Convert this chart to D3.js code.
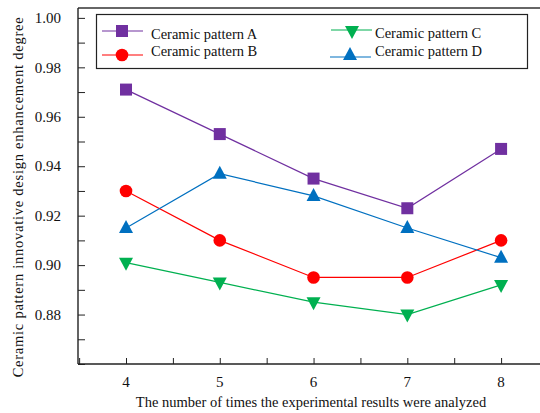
<!DOCTYPE html>
<html>
<head>
<meta charset="utf-8">
<script src="https://cdn.jsdelivr.net/npm/d3@7"></script>
<style>
  html, body { margin: 0; padding: 0; background: #fff; }
  svg text { font-family: "Liberation Serif", "DejaVu Serif", serif; }
</style>
</head>
<body>
<svg id="chart" width="540" height="413"></svg>
<script>
// Number of analysis runs on the x axis
const runs = [4, 5, 6, 7, 8];

// Innovative design enhancement degree for each ceramic pattern
const patternA = [0.971, 0.953, 0.935, 0.923, 0.947];
const patternB = [0.930, 0.910, 0.895, 0.895, 0.910];
const patternC = [0.901, 0.893, 0.885, 0.880, 0.892];
const patternD = [0.915, 0.937, 0.928, 0.915, 0.903];

const seriesNames = ["Ceramic pattern A", "Ceramic pattern B", "Ceramic pattern C", "Ceramic pattern D"];
const seriesValues = [patternA, patternB, patternC, patternD];
const seriesColors = ["#7030A0", "#FF0000", "#00B050", "#0070C0"];
const seriesShapes = ["square", "circle", "triangleDown", "triangleUp"];

const yTickValues = [0.86, 0.87, 0.88, 0.89, 0.90, 0.91, 0.92, 0.93, 0.94, 0.95, 0.96, 0.97, 0.98, 0.99, 1.00];
const yLabelValues = [0.88, 0.90, 0.92, 0.94, 0.96, 0.98, 1.00];
const xTickValues = [3.5, 4, 4.5, 5, 5.5, 6, 6.5, 7, 7.5, 8];

const FONT = "'Liberation Serif', 'DejaVu Serif', serif";
const svg = d3.select("#chart").attr("font-family", FONT);
const plotLeft = 78, plotRight = 540, plotTop = 8, plotBottom = 364;

const x = d3.scaleLinear().domain([3.488, 8.415]).range([plotLeft, plotRight]);
const y = d3.scaleLinear().domain([0.86, 1.004]).range([plotBottom, plotTop]);

// Frame: top border plus axes
svg.append("line").attr("x1", plotLeft).attr("x2", plotRight).attr("y1", plotTop).attr("y2", plotTop)
  .attr("stroke", "#333").attr("stroke-width", 1.3);

const yAxis = svg.append("g").attr("transform", `translate(${plotLeft},0)`)
  .call(d3.axisLeft(y).tickValues(yTickValues).tickSize(-7).tickFormat(""));
const xAxis = svg.append("g").attr("transform", `translate(0,${plotBottom})`)
  .call(d3.axisBottom(x).tickValues(xTickValues).tickSize(-6).tickFormat(""));
[yAxis, xAxis].forEach(g => {
  g.select(".domain").attr("stroke", "#222").attr("stroke-width", 1.4);
  g.selectAll(".tick line").attr("stroke", "#222").attr("stroke-width", 1);
});
xAxis.select(".domain").attr("d", `M${plotLeft},0H${plotRight}`);
yAxis.select(".domain").attr("d", `M0,${plotBottom}V${plotTop}`);

// Tick labels
svg.append("g").selectAll("text").data(yLabelValues).join("text")
  .attr("x", 61).attr("y", d => y(d)).attr("dy", "0.35em")
  .attr("text-anchor", "end").attr("font-size", 15).attr("fill", "#111")
  .attr("font-family", FONT)
  .text(d => d3.format(".2f")(d));
svg.append("g").selectAll("text").data(runs).join("text")
  .attr("x", d => x(d)).attr("y", 382).attr("dy", "0.35em")
  .attr("text-anchor", "middle").attr("font-size", 15).attr("fill", "#111")
  .attr("font-family", FONT)
  .text(d => d);

// Axis titles
svg.append("text").attr("x", 311).attr("y", 402).attr("dy", "0.35em")
  .attr("text-anchor", "middle").attr("font-size", 14.5).attr("fill", "#111")
  .attr("font-family", FONT)
  .text("The number of times the experimental results were analyzed");
svg.append("text").attr("transform", "translate(18,197) rotate(-90)").attr("dy", "0.35em")
  .attr("text-anchor", "middle").attr("font-size", 14.5).attr("fill", "#111")
  .attr("font-family", FONT).attr("letter-spacing", 0.75)
  .text("Ceramic pattern innovative design enhancement degree");

// Marker drawing
function drawMarker(g, shape, cx, cy, color) {
  if (shape === "square") {
    g.append("rect").attr("x", cx - 6).attr("y", cy - 6).attr("width", 12).attr("height", 12).attr("fill", color);
  } else if (shape === "circle") {
    g.append("circle").attr("cx", cx).attr("cy", cy).attr("r", 6.3).attr("fill", color);
  } else if (shape === "triangleUp") {
    g.append("path").attr("d", `M${cx},${cy - 8}L${cx + 7},${cy + 5}L${cx - 7},${cy + 5}Z`).attr("fill", color);
  } else {
    g.append("path").attr("d", `M${cx},${cy + 8}L${cx + 7},${cy - 5}L${cx - 7},${cy - 5}Z`).attr("fill", color);
  }
}

const line = d3.line().x((d, i) => x(runs[i])).y(d => y(d));

seriesValues.forEach((vals, s) => {
  const g = svg.append("g");
  g.append("path").datum(vals).attr("d", line)
    .attr("fill", "none").attr("stroke", seriesColors[s]).attr("stroke-width", 1.2);
  vals.forEach((v, i) => drawMarker(g, seriesShapes[s], x(runs[i]), y(v), seriesColors[s]));
});

// Legend
const legend = svg.append("g");
legend.append("rect").attr("x", 96.5).attr("y", 14.5).attr("width", 431).attr("height", 54)
  .attr("fill", "#fff").attr("stroke", "#222").attr("stroke-width", 1.2);
const legendItems = [
  { x1: 102, x2: 143, mx: 122, ly: 31, tx: 151, ty: 34 },
  { x1: 102, x2: 143, mx: 122, ly: 55, tx: 151, ty: 51 },
  { x1: 331, x2: 372, mx: 352, ly: 30, tx: 375, ty: 33 },
  { x1: 330, x2: 371, mx: 350, ly: 57, tx: 375, ty: 51 }
];
legendItems.forEach((it, s) => {
  const g = legend.append("g");
  g.append("line").attr("x1", it.x1).attr("x2", it.x2).attr("y1", it.ly).attr("y2", it.ly)
    .attr("stroke", seriesColors[s]).attr("stroke-width", 1.2);
  drawMarker(g, seriesShapes[s], it.mx, s === 2 ? it.ly + 1 : (s === 3 ? it.ly - 2 : it.ly), seriesColors[s]);
  g.append("text").attr("x", it.tx).attr("y", it.ty).attr("dy", "0.35em")
    .attr("font-size", 14.5).attr("fill", "#111").attr("font-family", FONT).text(seriesNames[s]);
});
</script>
</body>
</html>
